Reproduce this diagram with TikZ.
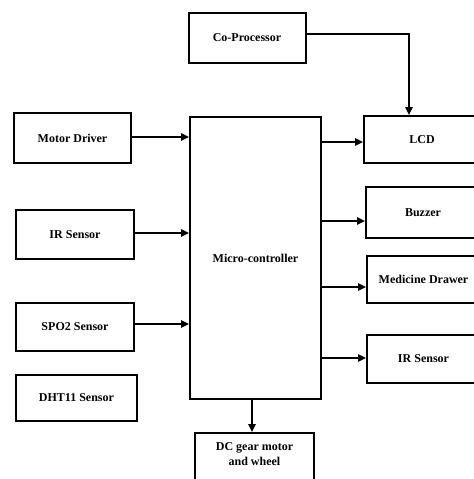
\documentclass[tikz,border=0pt]{standalone}
\usepackage{fontspec}
\setmainfont{Liberation Serif}
\usetikzlibrary{arrows.meta}
\begin{document}
\begin{tikzpicture}[x=0.75pt,y=-0.75pt,
  box/.style={draw,line width=1.5pt,rectangle,inner sep=0pt,align=center,font=\fontsize{9}{11}\selectfont\bfseries},
  arr/.style={line width=2pt,-{Triangle[length=6pt,width=5.5pt]}}]
\useasboundingbox (0,0) rectangle (474,479);
\clip (0,0) rectangle (474,479);
% left column
\node[box,minimum width=87.75pt,minimum height=37.5pt] (cp) at (247,38) {Co-Processor};
\node[box,minimum width=87.75pt,minimum height=37.5pt] (md) at (72.5,138) {Motor Driver};
\node[box,minimum width=88.5pt,minimum height=36.75pt] (irl) at (75,234.5) {IR Sensor};
\node[box,minimum width=88.5pt,minimum height=36pt] (spo) at (75,327) {SPO2 Sensor};
\node[box,minimum width=90.75pt,minimum height=34.5pt] (dht) at (76.5,398) {DHT11 Sensor};
% centre
\node[box,minimum width=98.25pt,minimum height=211.5pt] (mc) at (255.5,258) {Micro-controller};
\node[box,minimum width=89.25pt,minimum height=36pt,text depth=4pt] (dc) at (254.5,457) {DC gear motor\\and wheel};
% right column
\node[box,minimum width=87pt,minimum height=35.25pt] (lcd) at (422,139.5) {LCD};
\node[box,minimum width=85.5pt,minimum height=38.25pt] (bz) at (423,212.5) {Buzzer};
\node[box,minimum width=84.75pt,minimum height=35.25pt] (mdw) at (423.5,279.5) {Medicine Drawer};
\node[box,minimum width=84.75pt,minimum height=36pt] (irr) at (423.5,359) {IR Sensor};
% connectors
\draw[arr] (md.east |- 0,137) -- (mc.west |- 0,137);
\draw[arr] (irl.east |- 0,233) -- (mc.west |- 0,233);
\draw[arr] (spo.east |- 0,324) -- (mc.west |- 0,324);
\draw[arr] (mc.east |- 0,142) -- (lcd.west |- 0,142);
\draw[arr] (mc.east |- 0,221) -- (bz.west |- 0,221);
\draw[arr] (mc.east |- 0,287) -- (mdw.west |- 0,287);
\draw[arr] (mc.east |- 0,358) -- (irr.west |- 0,358);
\draw[arr] (mc.south -| 252,0) -- (dc.north -| 252,0);
\draw[arr] (cp.east |- 0,34) -| (lcd.north -| 409,0);
\end{tikzpicture}
\end{document}
